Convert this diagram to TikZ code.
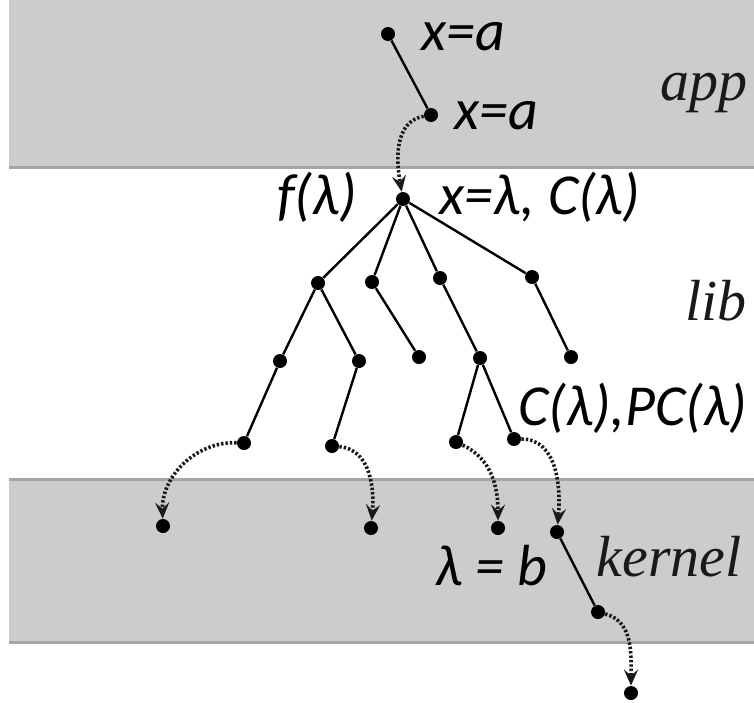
\documentclass[tikz,border=0pt]{standalone}
\usepackage{fontspec}
\setmainfont{Carlito}
\newfontfamily\serifmiring{Liberation Serif}
\usetikzlibrary{arrows.meta}
\definecolor{abuPita}{RGB}{204,204,204}
\definecolor{garisPita}{RGB}{165,165,165}

\begin{document}
\begin{tikzpicture}[x=0.5pt, y=-0.5pt,
  titik/.style={circle, fill, inner sep=0pt, minimum size=7pt},
  sisi/.style={line width=1.2pt},
  lompat/.style={line width=1.8pt, dash pattern=on 1.2pt off 1pt, black!90,
    -{Stealth[length=8pt, width=7pt, inset=3pt]}},
  tulisan/.style={font=\fontsize{29}{33}\selectfont\itshape, inner sep=0pt},
  lapisan/.style={font=\fontsize{29}{33}\serifmiring\itshape, text=black!90, inner sep=0pt}
]
  \useasboundingbox (0,0) rectangle (754,702);

  % pita app dan kernel
  \fill[abuPita] (9,0) rectangle (754,167);
  \draw[garisPita, line width=1.5pt] (9,167) -- (754,167);
  \fill[abuPita] (9,479) rectangle (754,642);
  \draw[garisPita, line width=1.5pt] (9,479) -- (754,479);
  \draw[garisPita, line width=1.5pt] (9,642) -- (754,642);

  \node[lapisan] (app) at (704,93) {app};
  \node[lapisan] (lib) at (716,301) {lib};
  \node[lapisan] (kernel) at (669,557) {kernel};

  % titik-titik
  \node[titik] (t1) at (388,34) {};
  \node[titik] (t2) at (431,115) {};
  \node[titik] (r) at (403,199) {};
  \node[titik] (a) at (318,283) {};
  \node[titik] (b) at (372,282) {};
  \node[titik] (c) at (440,278) {};
  \node[titik] (d) at (532,277) {};
  \node[titik] (a1) at (280,361) {};
  \node[titik] (a2) at (359,361) {};
  \node[titik] (b1) at (419,357) {};
  \node[titik] (c1) at (480,358) {};
  \node[titik] (d1) at (571,357) {};
  \node[titik] (a1a) at (244,443) {};
  \node[titik] (a2a) at (332,446) {};
  \node[titik] (c1a) at (456,442) {};
  \node[titik] (c1b) at (514,439) {};
  \node[titik] (k1) at (163,526) {};
  \node[titik] (k2) at (371,528) {};
  \node[titik] (k3) at (498,528) {};
  \node[titik] (k4) at (557,532) {};
  \node[titik] (k5) at (598,612) {};
  \node[titik] (k6) at (631,693) {};

  \draw[sisi] (t1) -- (t2);
  \draw[sisi] (r) -- (a);
  \draw[sisi] (r) -- (b);
  \draw[sisi] (r) -- (c);
  \draw[sisi] (r) -- (d);
  \draw[sisi] (a) -- (a1);
  \draw[sisi] (a) -- (a2);
  \draw[sisi] (b) -- (b1);
  \draw[sisi] (c) -- (c1);
  \draw[sisi] (d) -- (d1);
  \draw[sisi] (a1) -- (a1a);
  \draw[sisi] (a2) -- (a2a);
  \draw[sisi] (c1) -- (c1a);
  \draw[sisi] (c1) -- (c1b);
  \draw[sisi] (k4) -- (k5);

  \draw[lompat] (t2) to[out=190, in=100] (r);
  \draw[lompat] (a1a) to[out=178, in=92] (k1);
  \draw[lompat] (a2a) to[out=-5, in=85] (k2);
  \draw[lompat] (c1a) to[out=-25, in=90] (k3);
  \draw[lompat] (c1b) to[out=0, in=85] (k4);
  \draw[lompat] (k5) to[out=-15, in=90] (k6);

  % label
  \node[tulisan] (lx1) at (463,37) {x=a};
  \node[tulisan] (lx2) at (496,116) {x=a};
  \node[tulisan] (lf) at (317,197) {f(λ)};
  \node[tulisan] (lxc) at (540,197) {x=λ, C(λ)};
  \node[tulisan] (lpc) at (633,408) {C(λ),PC(λ)};
  \node[tulisan] (lb) at (491,566) {λ = b};
\end{tikzpicture}
\end{document}
